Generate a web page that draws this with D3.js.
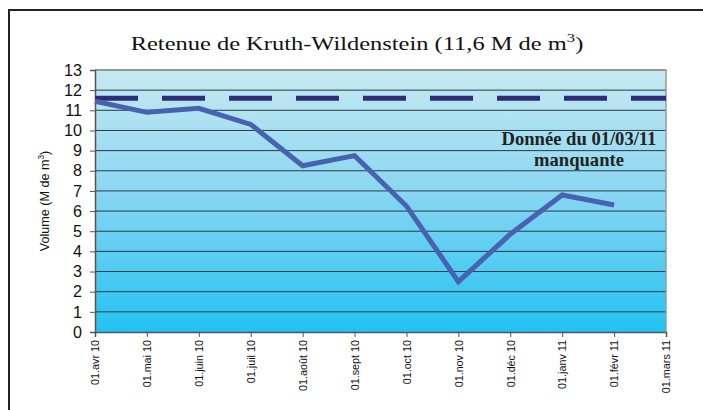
<!DOCTYPE html>
<html>
<head>
<meta charset="utf-8">
<script src="https://cdn.jsdelivr.net/npm/d3@7"></script>
<style>
  body { margin: 0; background: #fff; }
  svg { display: block; }
</style>
</head>
<body>
<svg id="chart" width="703" height="410"></svg>
<script>
// data
const months = ["01.avr 10", "01.mai 10", "01.juin 10", "01.juil 10", "01.août 10", "01.sept 10",
  "01.oct 10", "01.nov 10", "01.déc 10", "01.janv 11", "01.févr 11", "01.mars 11"];
const volumes = [11.45, 10.9, 11.1, 10.3, 8.25, 8.75, 6.25, 2.5, 4.85, 6.8, 6.3]; // mars 11 missing
const capacity = 11.6;
const yTicks = d3.range(0, 14);

const svg = d3.select("#chart");
const pLeft = 95, pRight = 666, pTop = 70, pBottom = 332;
const serif = "'Liberation Serif', 'Times New Roman', serif";
const sans = "'Liberation Sans', Arial, sans-serif";

// font size that makes `str` about `target` px long
function fitSize(str, family, weight, target) {
  const t = svg.append("text").attr("font-family", family).attr("font-weight", weight)
    .attr("font-size", 20).text(str);
  const w = t.node().getComputedTextLength();
  t.remove();
  return 20 * target / w;
}

// outer frame
svg.append("rect")
  .attr("x", 9).attr("y", 10).attr("width", 720).attr("height", 430)
  .attr("fill", "none").attr("stroke", "#222").attr("stroke-width", 2);

// gradient bg
const grad = svg.append("defs").append("linearGradient")
  .attr("id", "bg").attr("x1", 0).attr("y1", 0).attr("x2", 0).attr("y2", 1);
grad.append("stop").attr("offset", "0%").attr("stop-color", "#c6e9f1");
grad.append("stop").attr("offset", "45%").attr("stop-color", "#8cd7f2");
grad.append("stop").attr("offset", "100%").attr("stop-color", "#22c2f2");

const x = d3.scalePoint().domain(months).range([pLeft, pRight]);
const y = d3.scaleLinear().domain([0, 13]).range([pBottom, pTop]);

svg.append("rect")
  .attr("x", pLeft).attr("y", pTop).attr("width", pRight - pLeft).attr("height", pBottom - pTop)
  .attr("fill", "url(#bg)");

// gridlines
svg.append("g").selectAll("line")
  .data(yTicks.filter(d => d > 0))
  .join("line")
  .attr("x1", pLeft).attr("x2", pRight)
  .attr("y1", d => y(d)).attr("y2", d => y(d))
  .attr("stroke", "#2a3a44").attr("stroke-width", 1);

// plot border right/top
svg.append("path")
  .attr("d", `M${pLeft},${pTop}H${pRight}V${pBottom}`)
  .attr("fill", "none").attr("stroke", "#9a9a9a").attr("stroke-width", 1.5);

// y axis
const yAxis = svg.append("g")
  .attr("transform", `translate(${pLeft},0)`)
  .call(d3.axisLeft(y).tickValues(yTicks).tickSize(5).tickPadding(8).tickFormat(d3.format("d")));
yAxis.select(".domain").attr("stroke", "#555").attr("stroke-width", 1.5);
yAxis.selectAll(".tick line").attr("stroke", "#555");
yAxis.selectAll("text").attr("font-family", sans)
  .attr("font-size", fitSize("10", sans, "normal", 18)).attr("fill", "#111");

// x axis
const xAxis = svg.append("g")
  .attr("transform", `translate(0,${pBottom})`)
  .call(d3.axisBottom(x).tickSize(5).tickPadding(8));
xAxis.select(".domain").attr("stroke", "#555").attr("stroke-width", 1.5);
xAxis.selectAll(".tick line").attr("stroke", "#555");
xAxis.selectAll("text")
  .attr("font-family", sans)
  .attr("font-size", fitSize("01.avr 10", sans, "normal", 45)).attr("fill", "#111")
  .attr("transform", "rotate(-90)")
  .attr("text-anchor", "end")
  .attr("x", -8).attr("y", 0).attr("dy", "0.35em");

// capacity dashed line
svg.append("line")
  .attr("x1", pLeft).attr("x2", pRight)
  .attr("y1", y(capacity)).attr("y2", y(capacity))
  .attr("stroke", "#2e2d78").attr("stroke-width", 5)
  .attr("stroke-dasharray", "43,24");

// volume line
svg.append("path")
  .datum(volumes)
  .attr("fill", "none")
  .attr("stroke", "#4862b2").attr("stroke-width", 5).attr("stroke-linejoin", "miter")
  .attr("d", d3.line().x((d, i) => x(months[i])).y(d => y(d)));

// title (wide face in the original: stretch to its width)
const titleG = svg.append("g");
const title = titleG.append("text")
  .attr("x", 0).attr("y", 0).attr("text-anchor", "middle")
  .attr("font-family", serif)
  .attr("font-size", 19).attr("fill", "#111");
title.append("tspan").text("Retenue de Kruth-Wildenstein (11,6 M de m");
title.append("tspan").attr("font-size", 13).attr("dy", -8).text("3");
title.append("tspan").attr("dy", 8).text(")");
const tw = title.node().getComputedTextLength();
titleG.attr("transform", `translate(357,50) scale(${453 / tw},1)`);

// annotation
const note = svg.append("text")
  .attr("text-anchor", "middle")
  .attr("font-family", serif)
  .attr("font-weight", "bold")
  .attr("font-size", fitSize("Donnée du 01/03/11", serif, "bold", 155)).attr("fill", "#222");
note.append("tspan").attr("x", 579).attr("y", 145).text("Donnée du 01/03/11");
note.append("tspan").attr("x", 579).attr("y", 166).text("manquante");

// y label
const yl = svg.append("text")
  .attr("transform", "translate(49,201) rotate(-90)")
  .attr("text-anchor", "middle")
  .attr("font-family", sans)
  .attr("font-size", fitSize("Volume (M de m)", sans, "normal", 96)).attr("fill", "#111");
yl.append("tspan").text("Volume (M de m");
yl.append("tspan").attr("font-size", "0.65em").attr("dy", -5).text("3");
yl.append("tspan").attr("dy", 5).text(")");
</script>
</body>
</html>
